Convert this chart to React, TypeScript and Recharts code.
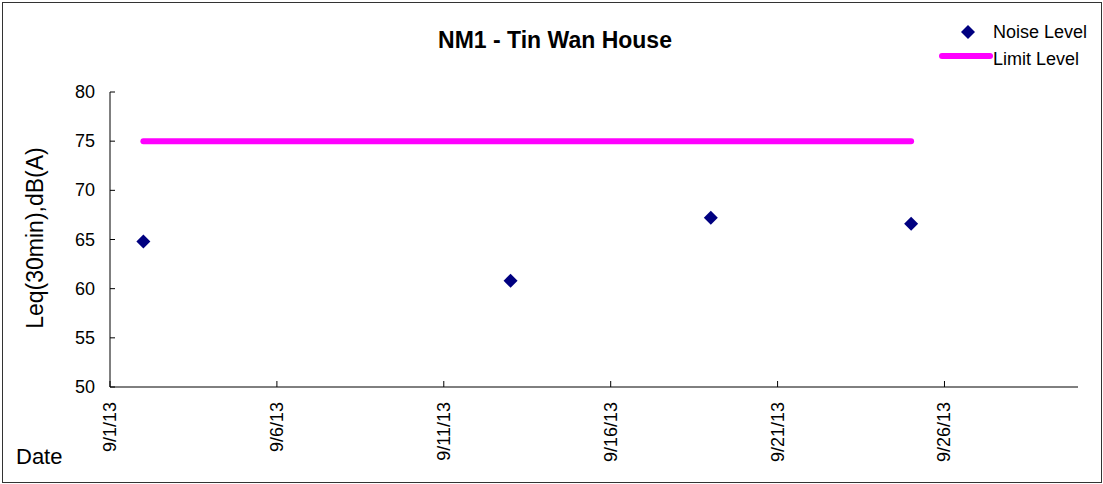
import { ComposedChart, Line, Scatter, XAxis, YAxis } from 'recharts';

// day of September 2013
const days = [2, 13, 19, 25];
const noiseLevel = [64.8, 60.8, 67.2, 66.6];
const limitLevel = [75, 75, 75, 75];
const xTicks = [1, 6, 11, 16, 21, 26];
const yTicks = [50, 55, 60, 65, 70, 75, 80];

const data = days.map((d, i) => ({ day: d, noise: noiseLevel[i], limit: limitLevel[i] }));

const FONT = '"Liberation Sans", Arial, sans-serif';
const NAVY = '#000080';
const MAGENTA = '#FF00FF';

const XTick = ({ x, y, payload }: any) => (
  <g>
    <line x1={x} y1={y} x2={x} y2={y - 6} stroke="#000" strokeWidth={1} />
    <text
      x={x}
      y={y + 15}
      transform={`rotate(-90, ${x}, ${y + 15})`}
      textAnchor="end"
      dominantBaseline="central"
      fontSize={18}
      fontFamily={FONT}
      fill="#000"
    >
      {`9/${payload.value}/13`}
    </text>
  </g>
);

const YTick = ({ x, y, payload }: any) => (
  <g>
    <line x1={x} y1={y} x2={x + 5} y2={y} stroke="#000" strokeWidth={1} />
    <text x={x - 15} y={y} textAnchor="end" dominantBaseline="central" fontSize={18} fontFamily={FONT} fill="#000">
      {payload.value}
    </text>
  </g>
);

const Diamond = ({ cx, cy }: any) => (
  <polygon points={`${cx},${cy - 7} ${cx + 7},${cy} ${cx},${cy + 7} ${cx - 7},${cy}`} fill={NAVY} />
);

const LegendBox = () => (
  <svg width={175} height={70} style={{ position: 'absolute', left: 928, top: 0, overflow: 'visible' }}>
    <polygon points="40,25 47,32 40,39 33,32" fill={NAVY} />
    <text x={65} y={32} dominantBaseline="central" fontSize={18} fontFamily={FONT} fill="#000">
      Noise Level
    </text>
    <line x1={14} y1={56} x2={62} y2={56} stroke={MAGENTA} strokeWidth={6} strokeLinecap="round" />
    <text x={65} y={59} dominantBaseline="central" fontSize={18} fontFamily={FONT} fill="#000">
      Limit Level
    </text>
  </svg>
);

export default function App() {
  return (
    <div style={{ position: 'absolute', left: 0, top: 0, width: 1103, height: 484, background: '#fff', fontFamily: FONT }}>
      <div
        style={{
          position: 'absolute',
          left: 2,
          top: 2,
          width: 1100,
          height: 481,
          boxSizing: 'border-box',
          border: '1px solid #333',
        }}
      />
      <ComposedChart width={1103} height={484} data={data} margin={{ top: 92, right: 25, bottom: 0, left: 0 }}>
        <XAxis
          type="number"
          dataKey="day"
          domain={[1, 30]}
          ticks={xTicks}
          interval={0}
          height={97}
          tickSize={0}
          tickMargin={0}
          tick={<XTick />}
          axisLine={{ stroke: '#000', strokeWidth: 1 }}
          allowDataOverflow
        />
        <YAxis
          type="number"
          domain={[50, 80]}
          ticks={yTicks}
          interval={0}
          width={110}
          tickSize={0}
          tickMargin={0}
          tick={<YTick />}
          axisLine={{ stroke: '#000', strokeWidth: 1 }}
        />
        <Line
          type="linear"
          dataKey="limit"
          name="Limit Level"
          stroke={MAGENTA}
          strokeWidth={6}
          strokeLinecap="round"
          dot={false}
          activeDot={false}
          isAnimationActive={false}
        />
        <Scatter dataKey="noise" name="Noise Level" fill={NAVY} shape={<Diamond />} isAnimationActive={false} />
      </ComposedChart>
      <LegendBox />
      <div
        style={{
          position: 'absolute',
          left: 355,
          top: 29,
          width: 400,
          textAlign: 'center',
          fontSize: 23,
          lineHeight: '23px',
          fontWeight: 'bold',
          whiteSpace: 'nowrap',
        }}
      >
        NM1 - Tin Wan House
      </div>
      <div
        style={{
          position: 'absolute',
          left: 35,
          top: 238,
          transform: 'translate(-50%, -50%) rotate(-90deg)',
          fontSize: 23,
          lineHeight: '23px',
          whiteSpace: 'nowrap',
        }}
      >
        Leq(30min),dB(A)
      </div>
      <div style={{ position: 'absolute', left: 16, top: 446, fontSize: 22, lineHeight: '22px' }}>Date</div>
    </div>
  );
}
